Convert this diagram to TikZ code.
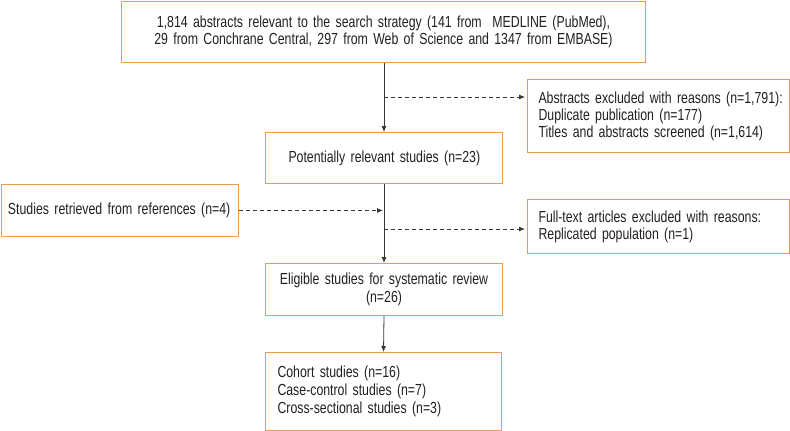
\documentclass[tikz,border=0pt]{standalone}
\usepackage{fontspec}
\setmainfont{Liberation Sans}[FakeStretch=0.77,WordSpace=0.9]
\usetikzlibrary{arrows.meta}
\definecolor{boxorange}{RGB}{230,156,82}
\definecolor{linegray}{RGB}{55,55,55}
\definecolor{textgray}{RGB}{35,31,32}
\begin{document}
\begin{tikzpicture}[x=1pt,y=-1pt,
  box/.style={draw=boxorange, line width=1pt, text=textgray, anchor=north west, inner ysep=0pt},
  fs16/.style={font=\fontsize{16}{16.5}\selectfont},
  fs17/.style={font=\fontsize{16}{17}\selectfont},
  fs18/.style={font=\fontsize{16}{18}\selectfont},
  arr/.style={draw=linegray, line width=0.8pt, -{Latex[length=6pt,width=5pt]}},
  dasharr/.style={arr, dash pattern=on 4pt off 3pt}
]
\useasboundingbox (0,0) rectangle (790,431);

\node[box, fs16, align=center, text width=500pt, inner xsep=12pt, minimum height=61pt] (top) at (121,1)
  {\mbox{1,814 abstracts relevant to the search strategy (141 from\ \ MEDLINE (PubMed),}\\
   \mbox{29 from Conchrane Central, 297 from Web of Science and 1347 from EMBASE)}};

\node[box, fs17, align=left, text width=240pt, inner xsep=11pt, minimum height=73pt] (ex1) at (527,79)
  {\mbox{Abstracts excluded with reasons (n=1,791):}\\
   \mbox{Duplicate publication (n=177)}\\
   \mbox{Titles and abstracts screened (n=1,614)}};

\node[box, fs18, align=left, text width=191pt, inner xsep=23pt, minimum height=51pt] (potrel) at (265,132)
  {\mbox{Potentially relevant studies (n=23)}};

\node[box, fs18, align=left, text width=223pt, inner xsep=7pt, minimum height=52pt] (retr) at (0.5,184)
  {\mbox{Studies retrieved from references (n=4)}};

\node[box, fs17, align=left, text width=240pt, inner xsep=11pt, minimum height=54pt] (ex2) at (527,199)
  {\mbox{Full-text articles excluded with reasons:}\\
   \mbox{Replicated population (n=1)}};

\node[box, fs18, align=center, text width=213pt, inner xsep=12pt, minimum height=52pt] (elig) at (265,263)
  {\mbox{Eligible studies for systematic review}\\(n=26)};

\node[box, fs18, align=left, text width=212pt, inner xsep=12pt, minimum height=78pt] (final) at (265,352)
  {\mbox{Cohort studies (n=16)}\\
   \mbox{Case-control studies (n=7)}\\
   \mbox{Cross-sectional studies (n=3)}};

\coordinate (j1) at (383.5,97);
\coordinate (j2) at (383.5,229);

\draw[arr] (potrel.north |- top.south) -- (potrel.north);
\draw[dasharr] (j1) -- ([xshift=-2pt]j1 -| ex1.west);
\draw[arr] (potrel.south) -- (elig.north);
\draw[dasharr] (retr.east) -- ([xshift=-1pt]retr.east -| potrel.south);
\draw[dasharr] (j2) -- ([xshift=-2pt]j2 -| ex2.west);
\draw[arr] (elig.south) -- (final.north);
\end{tikzpicture}
\end{document}
